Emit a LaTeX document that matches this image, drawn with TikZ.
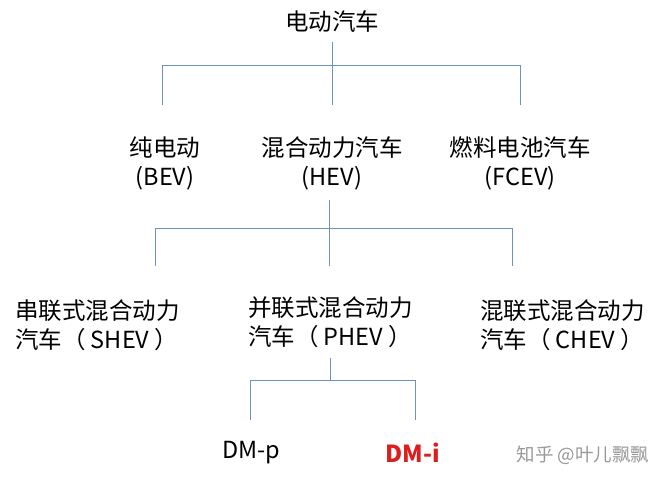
\documentclass[tikz,border=0pt]{standalone}
\usepackage{fontspec}
\setmainfont{Noto Sans CJK SC}
\begin{document}
\begin{tikzpicture}[x=1pt,y=-1pt,
  ln/.style={line width=1pt, draw={rgb,255:red,110;green,145;blue,190}},
  t/.style={font=\fontsize{23.5}{29}\selectfont, inner sep=0pt, align=center},
  tl/.style={t, anchor=west, align=left}]
\useasboundingbox (0,0) rectangle (671,483);
\node[t] (root) at (332,22) {电动汽车};
\node[t] (bev) at (165,163) {纯电动\\(BEV)};
\node[t] (hev) at (332,163) {混合动力汽车\\(HEV)};
\node[t] (fcev) at (520,163) {燃料电池汽车\\(FCEV)};
\node[tl] (shev) at (15,325) {串联式混合动力\\汽车（ SHEV ）};
\node[tl] (phev) at (248,322) {并联式混合动力\\汽车（ PHEV ）};
\node[tl] (chev) at (480,325) {混联式混合动力\\汽车（ CHEV ）};
\node[t] (dmp) at (251,453) {DM-p};
\node[t, text={rgb,255:red,220;green,30;blue,30}, font=\fontsize{23.5}{29}\selectfont\bfseries] (dmi) at (413,453) {DM-i};
\node[inner sep=0pt, text=gray!80, font=\fontsize{18.5}{20}\selectfont] (wm) at (583,455) {知乎 @叶儿飘飘};
\coordinate (a1) at (162,65); \coordinate (a2) at (520,65);
\coordinate (b1) at (155,228); \coordinate (b2) at (512,228);
\coordinate (c1) at (250,380); \coordinate (c2) at (415,380);
\draw[ln] (332,42) -- (332,65);
\draw[ln] (162,105) -- (a1) -- (a2) -- (520,105);
\draw[ln] (332,65) -- (332,105);
\draw[ln] (329,200) -- (329,266);
\draw[ln] (155,266) -- (b1) -- (b2) -- (512,266);
\draw[ln] (330,358) -- (330,380);
\draw[ln] (250,420) -- (c1) -- (c2) -- (415,420);
\end{tikzpicture}
\end{document}
